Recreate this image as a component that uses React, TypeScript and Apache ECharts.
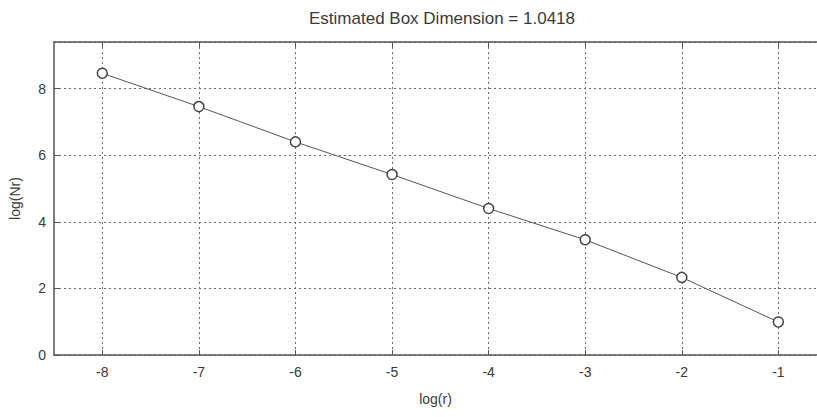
import React, { useEffect, useRef } from "react";
import * as echarts from "echarts";

const logR = [-8, -7, -6, -5, -4, -3, -2, -1];
const logN = [8.46, 7.46, 6.4, 5.42, 4.4, 3.46, 2.33, 0.99];
const xTicks = [-8, -7, -6, -5, -4, -3, -2, -1];
const titleText = "Estimated Box Dimension = 1.0418";
const xName = "log(r)";
const yName = "log(Nr)";

export default function App() {
  const ref = useRef<HTMLDivElement>(null);
  useEffect(() => {
    if (!ref.current) return;
    const chart = echarts.init(ref.current, null, { renderer: "svg" });
    const axisColor = "#555";
    const textColor = "#3a3a3a";
    const font = "Liberation Sans, Arial, sans-serif";
    const gridLine = { show: true, lineStyle: { color: "#6a6a6a", type: [2, 3], width: 1 } };
    chart.setOption({
      animation: false,
      backgroundColor: "#fff",
      title: {
        text: titleText,
        left: 437,
        textAlign: "center",
        top: 5,
        textStyle: { fontSize: 17, fontWeight: "normal", color: textColor, fontFamily: font },
      },
      grid: { left: 52, right: 0, top: 42, bottom: 62, show: false },
      xAxis: [
        {
          type: "value",
          min: -8.5,
          max: -0.6,
          name: xName,
          nameLocation: "middle",
          nameGap: 37,
          nameTextStyle: { fontSize: 14, color: textColor, fontFamily: font },
          axisLine: { show: true, onZero: false, lineStyle: { color: axisColor, width: 1.5 } },
          axisTick: { show: true, inside: true, length: 5, customValues: xTicks, lineStyle: { color: axisColor } },
          axisLabel: { fontSize: 14, color: textColor, fontFamily: font, margin: 10, customValues: xTicks },
          splitLine: gridLine,
        },
        {
          type: "value",
          position: "top",
          min: -8.5,
          max: -0.6,
          axisLine: { show: true, onZero: false, lineStyle: { color: axisColor, width: 1.5 } },
          axisTick: { show: true, inside: true, length: 5, customValues: xTicks, lineStyle: { color: axisColor } },
          axisLabel: { show: false },
          splitLine: { show: false },
        },
      ],
      yAxis: {
        type: "value",
        min: 0,
        max: 9.4,
        interval: 2,
        name: yName,
        nameLocation: "middle",
        nameGap: 32,
        nameTextStyle: { fontSize: 14, color: textColor, fontFamily: font },
        axisLine: { show: true, onZero: false, lineStyle: { color: axisColor, width: 1.5 } },
        axisTick: { show: true, inside: true, length: 5, lineStyle: { color: axisColor } },
        axisLabel: { fontSize: 14, color: textColor, fontFamily: font, margin: 8, showMaxLabel: false },
        splitLine: gridLine,
      },
      series: [
        {
          type: "line",
          data: logR.map((x, i) => [x, logN[i]]),
          symbol: "circle",
          symbolSize: 10,
          showSymbol: true,
          lineStyle: { color: "#555", width: 1 },
          itemStyle: { color: "#fff", borderColor: "#444", borderWidth: 1.5 },
        },
      ],
    });
    return () => chart.dispose();
  }, []);
  return <div ref={ref} style={{ position: "absolute", left: 0, top: 0, width: 817, height: 417 }} />;
}
